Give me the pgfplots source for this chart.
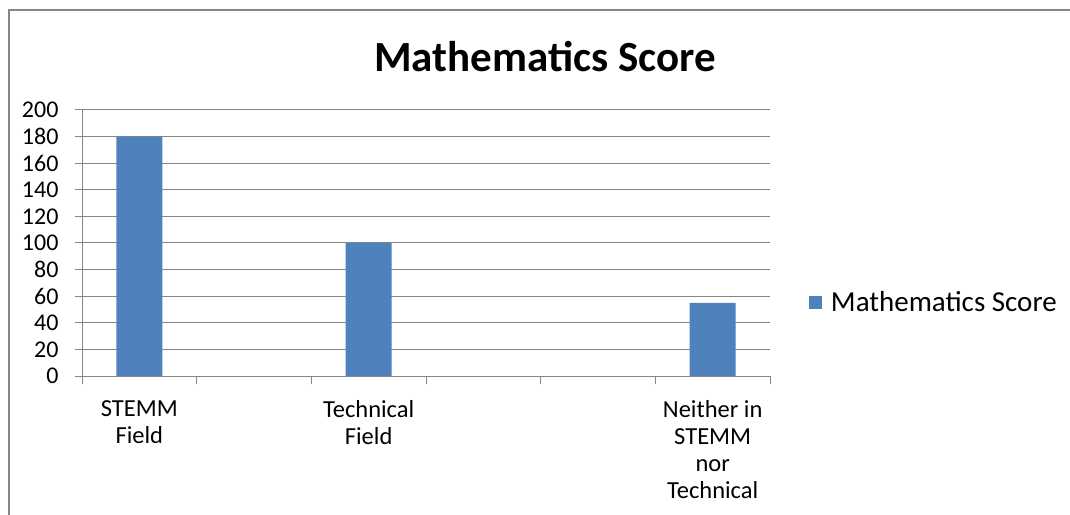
\documentclass[border=0pt]{standalone}
\usepackage{pgfplots}
\pgfplotsset{compat=1.18}
\usepackage{fontspec}
\setmainfont{Carlito}
\definecolor{barblue}{RGB}{79,129,189}
\definecolor{gridgray}{RGB}{134,134,134}
\definecolor{framegray}{RGB}{134,134,134}
\begin{document}
\begin{tikzpicture}[x=1pt,y=1pt]
\useasboundingbox (0,0) rectangle (1070,514);
\draw[framegray, line width=2pt] (9,-5) -- (9,504) -- (1080,504);
\node[font=\fontsize{43}{50}\selectfont\bfseries] at (545,457) {Mathematics Score};
\begin{axis}[
  at={(82pt,138pt)}, anchor=south west,
  scale only axis, width=688pt, height=266pt,
  ybar, bar width=46pt,
  xmin=-0.5, xmax=5.5, ymin=0, ymax=200,
  ytick={0,20,...,200},
  xtick={0,2,5},
  xticklabels={{STEMM\\Field},{Technical\\Field},{Neither in\\STEMM\\nor\\Technical}},
  minor xtick={-0.5,0.5,...,5.5},
  axis x line*=bottom, axis y line*=left,
  axis line style={gridgray, line width=1pt},
  ymajorgrids, grid style={gridgray, line width=1pt},
  tick align=outside,
  major tick length=7pt, minor tick length=8pt,
  tick style={gridgray, line width=1pt},
  major x tick style={draw=none},
  /pgf/number format/assume math mode=true,
  yticklabel style={font=\fontsize{24}{27}\selectfont, anchor=east, xshift=-13pt},
  xticklabel style={font=\fontsize{24.5}{27}\selectfont, align=center, anchor=north, yshift=-14pt},
  legend entries={Mathematics Score},
  legend style={at={(1.052,0.278)}, anchor=west, draw=none, fill=none,
    font=\fontsize{29}{32}\selectfont, legend cell align=left,
    nodes={inner xsep=5pt}},
  legend image code/.code={\fill[barblue] (0pt,-6.5pt) rectangle (13pt,6.5pt); \path (17pt,0pt);},
]
\addplot[fill=barblue, draw=none] coordinates {(0,180) (2,100) (5,55)};
\end{axis}
\end{tikzpicture}
\end{document}
